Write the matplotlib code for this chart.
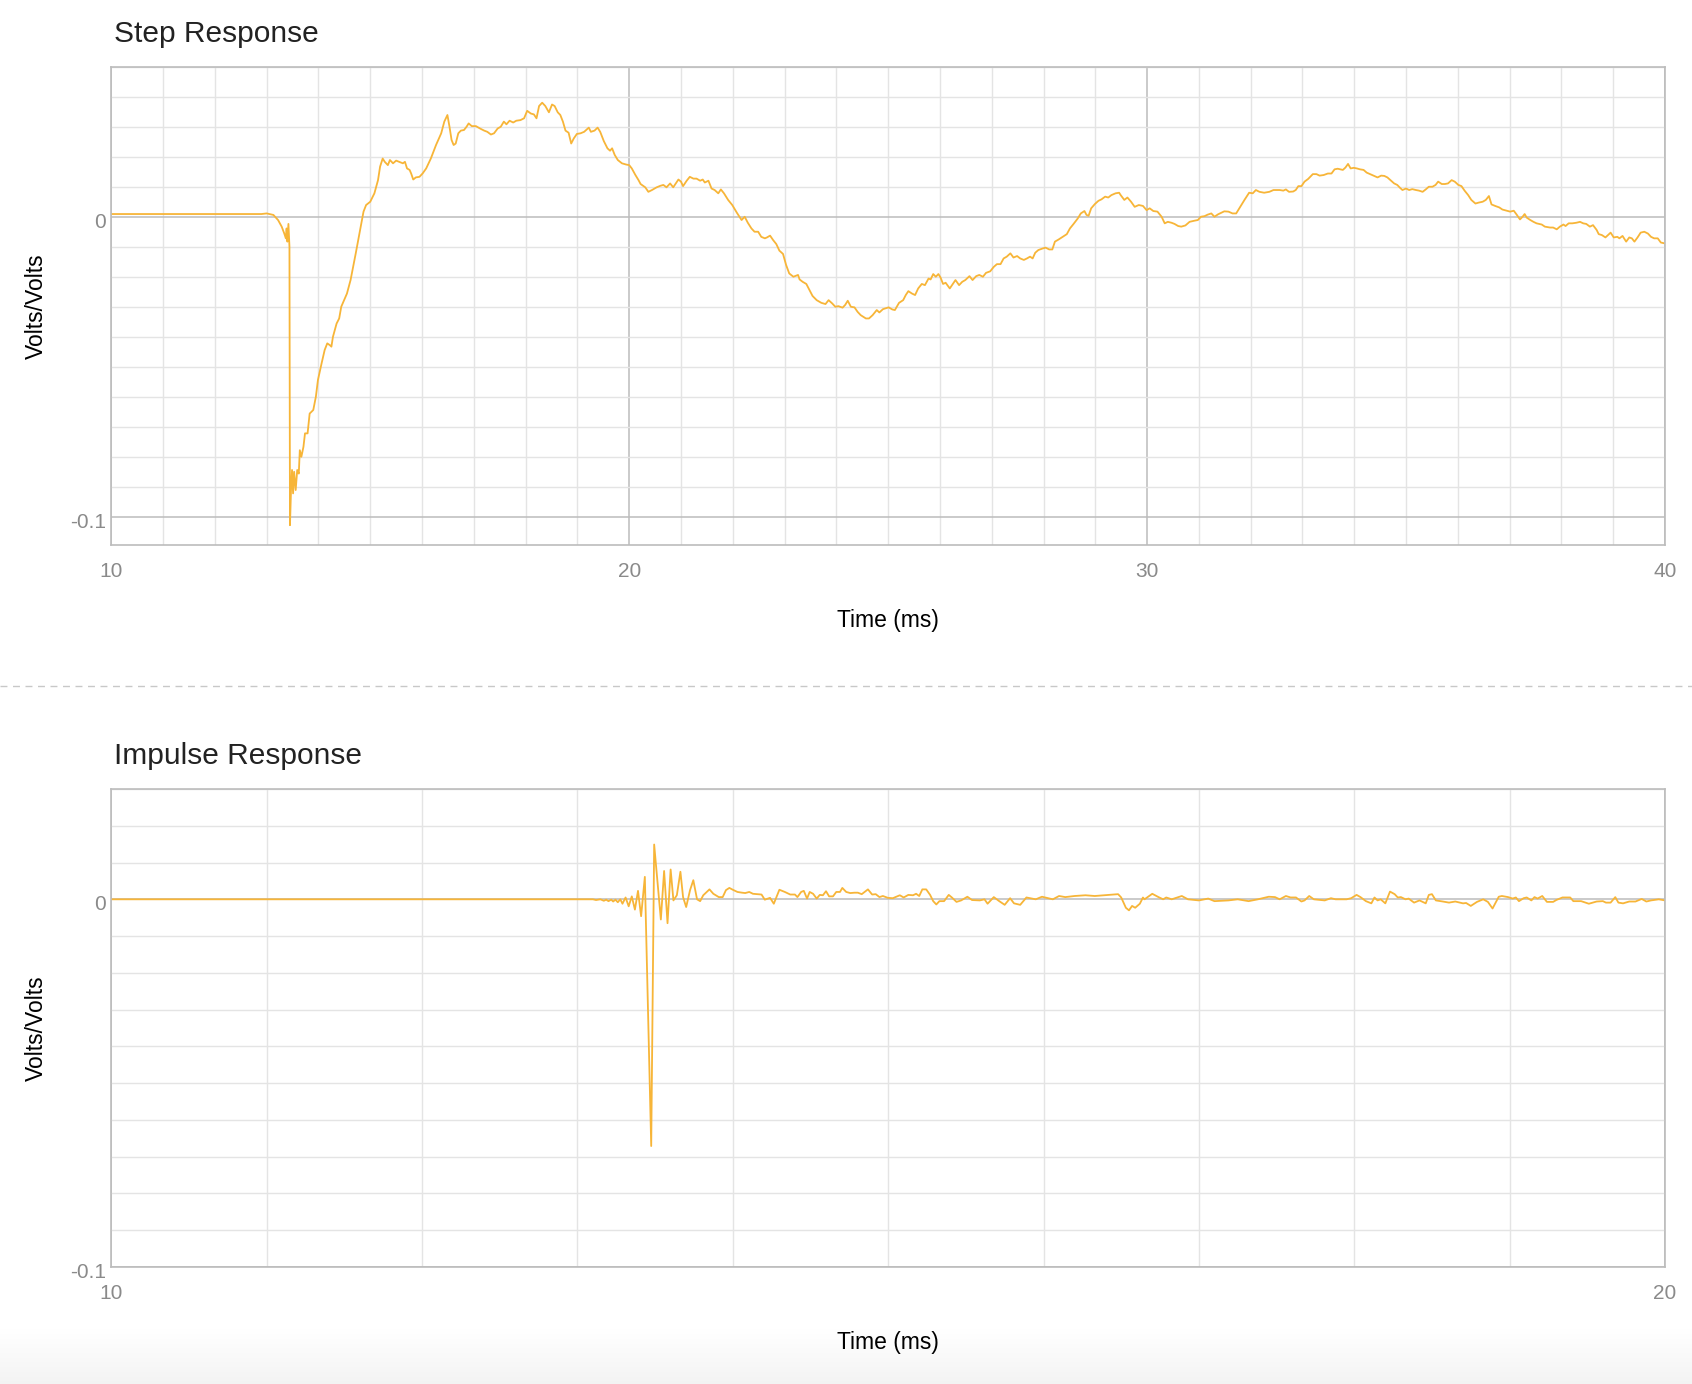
import numpy as np
import matplotlib
matplotlib.use("Agg")
import matplotlib.pyplot as plt
from matplotlib.ticker import MultipleLocator, FuncFormatter
from matplotlib.lines import Line2D
from matplotlib.transforms import ScaledTranslation

plt.rcParams['font.family'] = ['Liberation Sans', 'DejaVu Sans']
plt.rcParams['axes.unicode_minus'] = False

# ---------------- data ----------------
step_t = [10.0, 12.9, 13.0, 13.13, 13.22, 13.29, 13.34, 13.37, 13.385, 13.40, 13.42, 13.44,
          13.45, 13.47, 13.49, 13.51, 13.53, 13.56, 13.59, 13.62, 13.64, 13.67, 13.71, 13.74,
          13.79, 13.83, 13.9, 13.95, 13.99, 14.06, 14.12, 14.17, 14.22, 14.25, 14.28, 14.35,
          14.40, 14.44, 14.51, 14.55, 14.62, 14.67, 14.72, 14.78, 14.83, 14.87, 14.92, 15.0,
          15.08, 15.15, 15.19, 15.24, 15.28, 15.34, 15.38, 15.44, 15.5, 15.56, 15.63, 15.67,
          15.71, 15.76, 15.79, 15.83, 15.88, 15.95, 16.01, 16.08, 16.17, 16.27, 16.37, 16.43,
          16.49, 16.53, 16.57, 16.61, 16.65, 16.70, 16.75, 16.81, 16.86, 16.9, 16.96, 17.04,
          17.12, 17.2, 17.26, 17.33, 17.39, 17.46, 17.52, 17.58, 17.63, 17.69, 17.76, 17.82,
          17.9, 17.97, 18.03, 18.1, 18.16, 18.21, 18.26, 18.32, 18.38, 18.45, 18.51, 18.56,
          18.62, 18.67, 18.72, 18.77, 18.83, 18.88, 18.93, 18.99, 19.06, 19.13, 19.22, 19.26,
          19.33, 19.39, 19.44, 19.51, 19.58, 19.63, 19.67, 19.72, 19.78, 19.86, 19.94, 20.0,
          20.05, 20.12, 20.18, 20.22, 20.31, 20.37, 20.44, 20.53, 20.6, 20.66, 20.72, 20.79,
          20.85, 20.95, 21.0, 21.04, 21.11, 21.17, 21.24, 21.3, 21.37, 21.42, 21.46, 21.53,
          21.59, 21.65, 21.72, 21.77, 21.83, 21.91, 21.99, 22.08, 22.17, 22.23, 22.29, 22.36,
          22.42, 22.49, 22.55, 22.62, 22.66, 22.72, 22.78, 22.84, 22.9, 22.97, 23.03, 23.09,
          23.17, 23.26, 23.29, 23.35, 23.42, 23.48, 23.54, 23.62, 23.71, 23.79, 23.85, 23.92,
          23.98, 24.04, 24.12, 24.17, 24.22, 24.28, 24.35, 24.41, 24.47, 24.57, 24.63, 24.7,
          24.78, 24.83, 24.9, 25.01, 25.08, 25.13, 25.21, 25.29, 25.34, 25.39, 25.46, 25.52,
          25.58, 25.65, 25.71, 25.78, 25.82, 25.87, 25.92, 25.97, 26.01, 26.06, 26.11, 26.19,
          26.25, 26.3, 26.37, 26.43, 26.49, 26.57, 26.63, 26.7, 26.76, 26.83, 26.89, 26.97,
          27.04, 27.1, 27.17, 27.23, 27.29, 27.36, 27.42, 27.49, 27.55, 27.62, 27.68, 27.74,
          27.79, 27.84, 27.9, 27.98, 28.04, 28.11, 28.17, 28.22, 28.29, 28.37, 28.45, 28.51,
          28.58, 28.66, 28.72, 28.79, 28.83, 28.87, 28.92, 28.99, 29.06, 29.12, 29.19, 29.25,
          29.31, 29.39, 29.46, 29.49, 29.56, 29.62, 29.69, 29.76, 29.84, 29.92, 29.99, 30.05,
          30.12, 30.2, 30.28, 30.34, 30.4, 30.47, 30.53, 30.6, 30.66, 30.74, 30.82, 30.92,
          30.98, 31.04, 31.11, 31.17, 31.24, 31.3, 31.37, 31.43, 31.49, 31.57, 31.65, 31.72,
          31.78, 31.88, 31.97, 32.04, 32.1, 32.17, 32.26, 32.36, 32.44, 32.52, 32.56, 32.63,
          32.68, 32.74, 32.82, 32.87, 32.92, 32.98, 33.04, 33.11, 33.2, 33.27, 33.33, 33.41,
          33.49, 33.56, 33.62, 33.68, 33.78, 33.83, 33.88, 33.93, 33.99, 34.05, 34.11, 34.18,
          34.24, 34.32, 34.39, 34.45, 34.52, 34.58, 34.64, 34.71, 34.77, 34.83, 34.88, 34.93,
          35.0, 35.06, 35.12, 35.19, 35.25, 35.32, 35.38, 35.44, 35.51, 35.57, 35.62, 35.69,
          35.75, 35.81, 35.88, 35.94, 36.01, 36.07, 36.13, 36.2, 36.26, 36.34, 36.4, 36.48,
          36.54, 36.6, 36.65, 36.72, 36.8, 36.86, 36.95, 37.01, 37.08, 37.14, 37.2, 37.25,
          37.29, 37.33, 37.4, 37.46, 37.52, 37.62, 37.68, 37.78, 37.84, 37.91, 37.97, 38.04,
          38.08, 38.14, 38.21, 38.29, 38.36, 38.42, 38.48, 38.55, 38.61, 38.68, 38.72, 38.78,
          38.85, 38.9, 38.95, 39.01, 39.08, 39.12, 39.18, 39.25, 39.31, 39.36, 39.41, 39.47,
          39.53, 39.6, 39.67, 39.73, 39.79, 39.86, 39.92, 40.0]

step_v = [0.0009, 0.0009, 0.0011, 0.0006, -0.0011, -0.0033, -0.0056, -0.0072, -0.0039, -0.0083, -0.0024, -0.0100,
          -0.1028, -0.0911, -0.0844, -0.0922, -0.0850, -0.0911, -0.0844, -0.0856, -0.0778, -0.0800, -0.0767, -0.0722,
          -0.0722, -0.0656, -0.0644, -0.0600, -0.0544, -0.0489, -0.0444, -0.0422, -0.0428, -0.0433, -0.0400, -0.0356,
          -0.0339, -0.0300, -0.0272, -0.0256, -0.0211, -0.0167, -0.0122, -0.0067, -0.0022, 0.0017, 0.0039, 0.0050,
          0.0078, 0.0122, 0.0167, 0.0194, 0.0183, 0.0172, 0.0189, 0.0178, 0.0187, 0.0183, 0.0178, 0.0183,
          0.0161, 0.0156, 0.0144, 0.0124, 0.0131, 0.0133, 0.0144, 0.0161, 0.0194, 0.0239, 0.0278, 0.0317,
          0.0339, 0.0300, 0.0256, 0.0239, 0.0244, 0.0278, 0.0287, 0.0289, 0.0300, 0.0311, 0.0302, 0.0302,
          0.0294, 0.0287, 0.0283, 0.0274, 0.0278, 0.0294, 0.0300, 0.0317, 0.0308, 0.0320, 0.0314, 0.0320,
          0.0322, 0.0328, 0.0353, 0.0344, 0.0341, 0.0328, 0.0369, 0.0380, 0.0369, 0.0348, 0.0374, 0.0369,
          0.0348, 0.0339, 0.0317, 0.0287, 0.0280, 0.0244, 0.0261, 0.0276, 0.0278, 0.0283, 0.0297, 0.0283,
          0.0287, 0.0297, 0.0283, 0.0252, 0.0228, 0.0220, 0.0228, 0.0206, 0.0189, 0.0178, 0.0174, 0.0172,
          0.0161, 0.0139, 0.0122, 0.0109, 0.0098, 0.0083, 0.0089, 0.0098, 0.0103, 0.0106, 0.0098, 0.0111,
          0.0098, 0.0124, 0.0117, 0.0102, 0.0120, 0.0133, 0.0127, 0.0127, 0.0120, 0.0124, 0.0114, 0.0120,
          0.0094, 0.0089, 0.0078, 0.0091, 0.0078, 0.0056, 0.0039, 0.0013, -0.0011, 0.0000, -0.0020, -0.0039,
          -0.0050, -0.0050, -0.0067, -0.0072, -0.0069, -0.0063, -0.0078, -0.0091, -0.0113, -0.0124, -0.0161, -0.0189,
          -0.0200, -0.0194, -0.0209, -0.0217, -0.0224, -0.0244, -0.0264, -0.0278, -0.0287, -0.0291, -0.0278, -0.0289,
          -0.0300, -0.0298, -0.0303, -0.0294, -0.0280, -0.0300, -0.0302, -0.0317, -0.0328, -0.0339, -0.0339, -0.0328,
          -0.0311, -0.0319, -0.0308, -0.0302, -0.0309, -0.0311, -0.0287, -0.0278, -0.0261, -0.0248, -0.0256, -0.0261,
          -0.0239, -0.0224, -0.0228, -0.0206, -0.0209, -0.0191, -0.0200, -0.0191, -0.0202, -0.0224, -0.0220, -0.0239,
          -0.0224, -0.0211, -0.0228, -0.0217, -0.0211, -0.0198, -0.0211, -0.0198, -0.0194, -0.0200, -0.0187, -0.0182,
          -0.0167, -0.0158, -0.0158, -0.0139, -0.0133, -0.0122, -0.0136, -0.0131, -0.0139, -0.0144, -0.0139, -0.0133,
          -0.0139, -0.0120, -0.0111, -0.0106, -0.0103, -0.0109, -0.0109, -0.0083, -0.0076, -0.0067, -0.0058, -0.0039,
          -0.0024, -0.0006, 0.0011, 0.0019, 0.0006, 0.0003, 0.0028, 0.0042, 0.0053, 0.0058, 0.0067, 0.0064,
          0.0072, 0.0078, 0.0080, 0.0072, 0.0056, 0.0064, 0.0050, 0.0033, 0.0039, 0.0036, 0.0022, 0.0028,
          0.0019, 0.0017, 0.0000, -0.0022, -0.0017, -0.0020, -0.0024, -0.0031, -0.0033, -0.0029, -0.0017, -0.0013,
          -0.0011, 0.0000, 0.0002, 0.0007, 0.0011, 0.0000, 0.0008, 0.0013, 0.0018, 0.0017, 0.0011, 0.0011,
          0.0028, 0.0056, 0.0080, 0.0078, 0.0089, 0.0083, 0.0080, 0.0083, 0.0089, 0.0089, 0.0089, 0.0087,
          0.0091, 0.0083, 0.0084, 0.0089, 0.0102, 0.0102, 0.0117, 0.0126, 0.0142, 0.0142, 0.0137, 0.0139,
          0.0144, 0.0144, 0.0158, 0.0160, 0.0156, 0.0164, 0.0176, 0.0161, 0.0163, 0.0161, 0.0158, 0.0156,
          0.0147, 0.0141, 0.0136, 0.0131, 0.0137, 0.0136, 0.0131, 0.0120, 0.0111, 0.0106, 0.0097, 0.0089,
          0.0094, 0.0089, 0.0092, 0.0089, 0.0087, 0.0083, 0.0091, 0.0100, 0.0100, 0.0106, 0.0117, 0.0109,
          0.0109, 0.0111, 0.0122, 0.0117, 0.0106, 0.0102, 0.0087, 0.0072, 0.0056, 0.0044, 0.0047, 0.0050,
          0.0056, 0.0069, 0.0041, 0.0036, 0.0031, 0.0024, 0.0020, 0.0017, 0.0020, 0.0006, -0.0009, 0.0000,
          0.0009, -0.0003, -0.0011, -0.0017, -0.0022, -0.0026, -0.0033, -0.0036, -0.0036, -0.0042, -0.0033, -0.0026,
          -0.0031, -0.0022, -0.0022, -0.0020, -0.0017, -0.0022, -0.0024, -0.0033, -0.0028, -0.0044, -0.0058, -0.0061,
          -0.0069, -0.0061, -0.0053, -0.0069, -0.0067, -0.0072, -0.0064, -0.0083, -0.0069, -0.0072, -0.0083, -0.0069,
          -0.0053, -0.0050, -0.0056, -0.0067, -0.0072, -0.0072, -0.0086, -0.0089]

imp_t = [10.0, 13.1, 13.12, 13.148, 13.17, 13.185, 13.2, 13.218, 13.23, 13.245, 13.26, 13.276,
         13.29, 13.31, 13.33, 13.35, 13.37, 13.39, 13.41, 13.434, 13.475, 13.494, 13.537, 13.558,
         13.58, 13.60, 13.618, 13.64, 13.663, 13.68, 13.70, 13.725, 13.746, 13.77, 13.79, 13.81,
         13.85, 13.875, 13.91, 13.935, 13.956, 13.978, 14.0, 14.03, 14.06, 14.08, 14.106, 14.13,
         14.157, 14.185, 14.206, 14.24, 14.264, 14.30, 14.335, 14.37, 14.40, 14.416, 14.44, 14.457,
         14.478, 14.495, 14.517, 14.54, 14.56, 14.58, 14.6, 14.62, 14.645, 14.666, 14.69, 14.705,
         14.73, 14.756, 14.784, 14.805, 14.83, 14.87, 14.897, 14.92, 14.944, 14.966, 14.998, 15.03,
         15.075, 15.1, 15.13, 15.16, 15.18, 15.2, 15.22, 15.245, 15.27, 15.29, 15.31, 15.33,
         15.36, 15.39, 15.41, 15.44, 15.47, 15.51, 15.54, 15.59, 15.62, 15.64, 15.68, 15.715,
         15.75, 15.785, 15.81, 15.85, 15.89, 15.95, 15.99, 16.06, 16.1, 16.14, 16.2, 16.27,
         16.33, 16.42, 16.48, 16.5, 16.53, 16.55, 16.57, 16.59, 16.62, 16.64, 16.65, 16.7,
         16.74, 16.77, 16.79, 16.825, 16.89, 16.93, 17.0, 17.06, 17.1, 17.19, 17.25, 17.32,
         17.38, 17.45, 17.49, 17.52, 17.56, 17.59, 17.625, 17.66, 17.68, 17.71, 17.74, 17.81,
         17.85, 17.88, 17.95, 17.98, 18.015, 18.04, 18.075, 18.11, 18.13, 18.15, 18.17, 18.2,
         18.23, 18.26, 18.28, 18.3, 18.33, 18.35, 18.385, 18.42, 18.44, 18.46, 18.48, 18.5,
         18.525, 18.57, 18.61, 18.65, 18.7, 18.72, 18.75, 18.79, 18.83, 18.86, 18.89, 18.93,
         18.95, 18.99, 19.02, 19.04, 19.06, 19.09, 19.11, 19.14, 19.16, 19.18, 19.21, 19.24,
         19.28, 19.3, 19.34, 19.39, 19.41, 19.46, 19.51, 19.56, 19.6, 19.62, 19.65, 19.68,
         19.7, 19.73, 19.77, 19.81, 19.85, 19.88, 19.91, 19.96, 20.0]

imp_v = [0.0, 0.0, -0.0002, 0.0, -0.0004, -0.0001, -0.0005, -0.0001, -0.0006, -0.0001, -0.0008, 0.0,
         -0.0012, 0.0005, -0.0019, 0.0008, -0.0028, 0.0023, -0.0046, 0.0061, -0.0671, 0.0149, -0.0055, 0.0077,
         -0.0065, 0.0081, -0.0003, 0.0011, 0.0075, 0.0006, -0.0021, 0.0025, 0.0052, 0.0000, -0.0005, 0.0011,
         0.0027, 0.0015, 0.0006, 0.0006, 0.0025, 0.0031, 0.0026, 0.0020, 0.0018, 0.0017, 0.0020, 0.0015,
         0.0014, 0.0013, -0.0001, 0.0004, -0.0012, 0.0026, 0.0020, 0.0013, 0.0013, 0.0006, 0.0020, 0.0023,
         0.0002, 0.0020, 0.0015, 0.0002, 0.0012, 0.0011, 0.0022, 0.0008, 0.0008, 0.0020, 0.0020, 0.0031,
         0.0020, 0.0017, 0.0018, 0.0018, 0.0014, 0.0027, 0.0013, 0.0014, 0.0006, 0.0009, 0.0004, 0.0003,
         0.0011, 0.0005, 0.0012, 0.0011, 0.0015, 0.0009, 0.0027, 0.0027, 0.0012, -0.0005, -0.0014, -0.0005,
         -0.0005, 0.0012, 0.0005, -0.0007, -0.0003, 0.0007, -0.0002, -0.0003, 0.0, -0.0012, 0.0006, -0.0005,
         -0.0015, 0.0003, -0.0011, -0.0015, 0.0005, 0.0, 0.0007, 0.0, 0.0009, 0.0006, 0.0009, 0.0011,
         0.0009, 0.0012, 0.0014, 0.0005, -0.0023, -0.0030, -0.0018, -0.0023, -0.0012, 0.0005, 0.0, 0.0015,
         0.0006, 0.0, 0.0005, 0.0, 0.0009, 0.0, -0.0003, 0.0002, -0.0005, -0.0003, 0.0, -0.0005,
         0.0, 0.0007, 0.0006, 0.0, 0.0009, 0.0005, 0.0005, -0.0006, -0.0003, 0.0009, 0.0, -0.0003,
         0.0003, 0.0, 0.0, 0.0003, 0.0012, 0.0006, -0.0005, -0.0011, 0.0005, -0.0003, 0.0, -0.0011,
         0.0021, 0.0014, 0.0005, 0.0006, 0.0, 0.0002, -0.0009, -0.0003, -0.0007, -0.0011, 0.0012, 0.0014,
         -0.0003, -0.0006, -0.0009, -0.0006, -0.0011, -0.0010, -0.0018, -0.0007, 0.0, -0.0007, -0.0025, 0.0007,
         0.0009, 0.0006, 0.0002, 0.0005, -0.0005, 0.0003, 0.0005, -0.0003, 0.0006, 0.0002, 0.0009, -0.0007,
         -0.0007, -0.0002, 0.0005, 0.0005, -0.0005, -0.0005, -0.0012, -0.0006, -0.0005, -0.0009, -0.0009, 0.0006,
         -0.0009, -0.0011, -0.0006, -0.0006, 0.0001, -0.0006, -0.0003, 0.0, -0.0003]

titles = ["Step Response", "Impulse Response"]
x_label = "Time (ms)"
y_label = "Volts/Volts"

# ---------------- style ----------------
LINE = '#F7B538'
MINOR = '#e4e4e4'
MAJOR = '#bcbcbc'
TICKC = '#8a8a8a'
TEXTC = '#222222'
LABC = '#000000'

W, H = 1692, 1384
fig = plt.figure(figsize=(W / 100, H / 100), dpi=100)
fig.patch.set_facecolor('white')

# subtle grey fade at the very bottom
grad = fig.add_axes([0, 0, 1, 55 / H], zorder=-10)
g = np.linspace(0.955, 1.0, 64).reshape(-1, 1)
grad.imshow(np.dstack([g, g, g]), aspect='auto', origin='lower', extent=[0, 1, 0, 1])
grad.axis('off')


def px_rect(l, t, r, b):
    return [l / W, 1 - b / H, (r - l) / W, (b - t) / H]


def fmt(v, pos):
    if abs(v) < 1e-9:
        return '0'
    return ('%g' % round(v, 3))


def style(ax, xlim, ylim):
    ax.set_xlim(*xlim)
    ax.set_ylim(*ylim)
    ax.xaxis.set_major_locator(MultipleLocator(10))
    ax.xaxis.set_minor_locator(MultipleLocator(1))
    ax.yaxis.set_major_locator(MultipleLocator(0.1))
    ax.yaxis.set_minor_locator(MultipleLocator(0.01))
    ax.xaxis.set_major_formatter(FuncFormatter(fmt))
    ax.yaxis.set_major_formatter(FuncFormatter(fmt))
    ax.grid(which='minor', color=MINOR, linewidth=1.0)
    ax.grid(which='major', color=MAJOR, linewidth=1.1)
    ax.set_axisbelow(True)
    ax.tick_params(which='both', length=0)
    ax.tick_params(axis='x', which='major', pad=12.5, labelsize=15, labelcolor=TICKC)
    ax.tick_params(axis='y', which='major', pad=4, labelsize=15, labelcolor=TICKC)
    off = ScaledTranslation(0, -3.5 / 100, fig.dpi_scale_trans)
    for lab in ax.get_yticklabels():
        lab.set_transform(lab.get_transform() + off)
    for s in ax.spines.values():
        s.set_color(MAJOR)
        s.set_linewidth(1.2)
    ax.set_xlabel(x_label, fontsize=16.5, color=LABC)
    ax.set_ylabel(y_label, fontsize=16.5, color=LABC)


ax1 = fig.add_axes(px_rect(111.3, 66.7, 1665, 545))
ax1.plot(step_t, step_v, color=LINE, linewidth=1.3, solid_joinstyle='round')
style(ax1, (10, 40), (-0.1094, 0.05))
ax1.xaxis.set_label_coords(0.5, -0.133)
ax1.yaxis.set_label_coords(-0.0405, 0.5)

ax2 = fig.add_axes(px_rect(111.3, 789, 1665, 1267))
ax2.plot(imp_t, imp_v, color=LINE, linewidth=1.3, solid_joinstyle='round')
style(ax2, (10, 20), (-0.1, 0.03))
ax2.xaxis.set_label_coords(0.5, -0.133)
ax2.yaxis.set_label_coords(-0.0405, 0.5)

fig.text(114 / W, 1 - 34 / H, titles[0], fontsize=21.5, color=TEXTC, va='center', ha='left')
fig.text(114 / W, 1 - 756 / H, titles[1], fontsize=21.5, color=TEXTC, va='center', ha='left')

sep = Line2D([0, 1], [1 - 686 / H, 1 - 686 / H], transform=fig.transFigure,
             color='#c8c8c8', linewidth=1.0, linestyle=(0, (5, 4)))
fig.add_artist(sep)

fig.savefig('out.png', dpi=100, facecolor='white')
